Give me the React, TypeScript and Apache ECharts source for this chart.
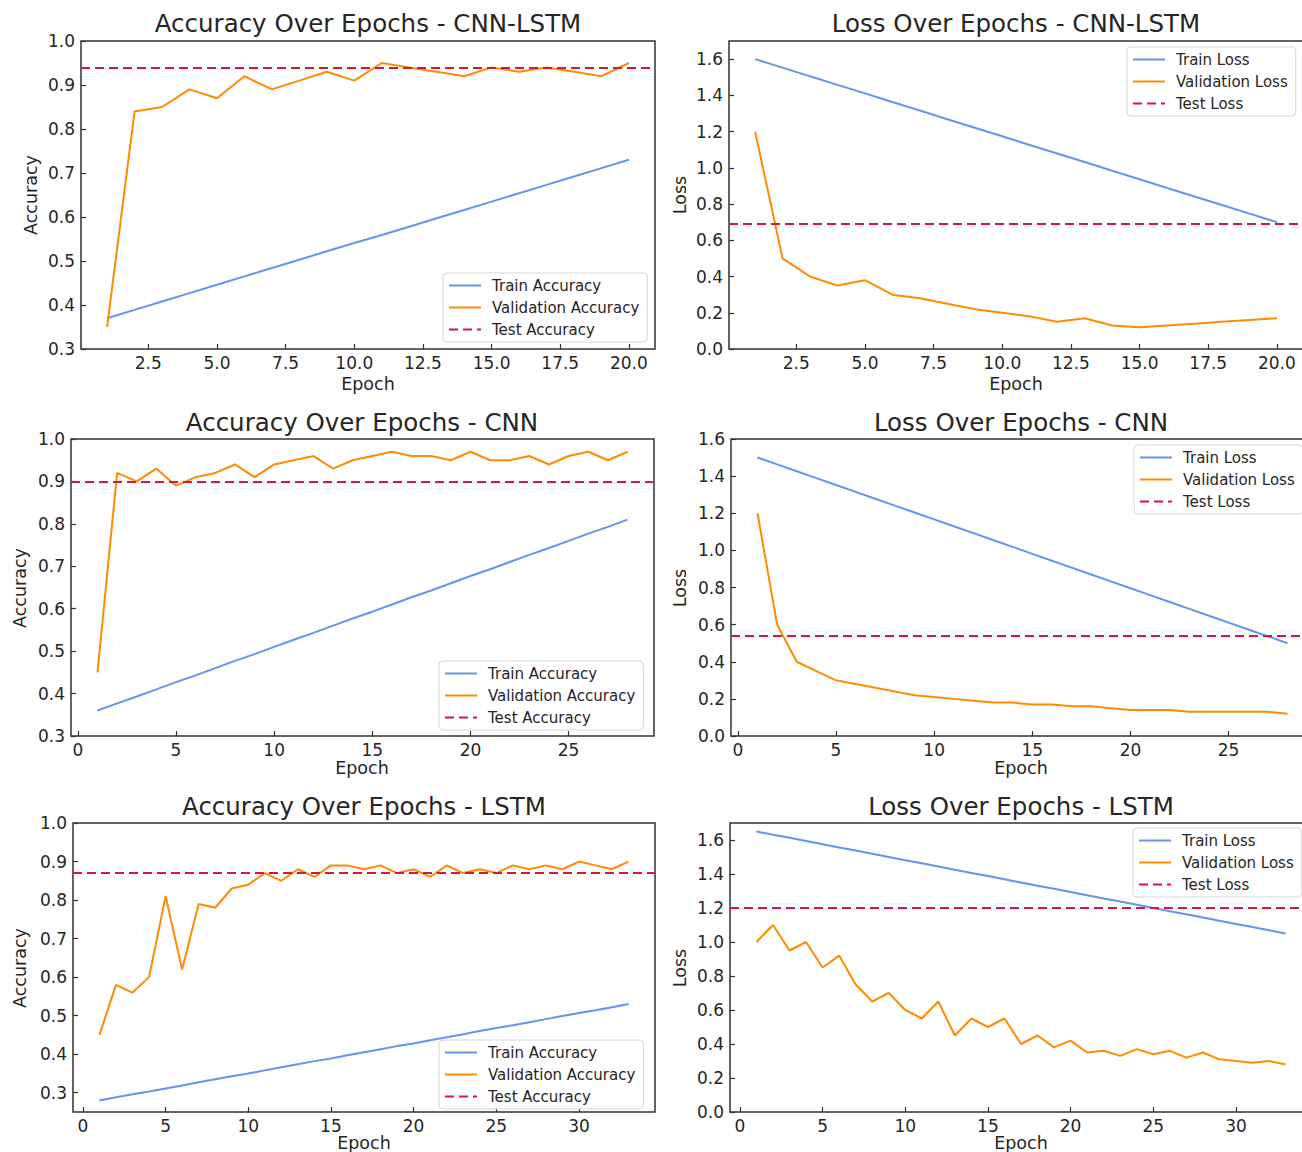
import React, { useEffect, useRef } from 'react';
import * as echarts from 'echarts';

// ---------- DATA ----------
const epochs20 = [1, 2, 3, 4, 5, 6, 7, 8, 9, 10, 11, 12, 13, 14, 15, 16, 17, 18, 19, 20];
const epochs28 = [1, 2, 3, 4, 5, 6, 7, 8, 9, 10, 11, 12, 13, 14, 15, 16, 17, 18, 19, 20, 21, 22, 23, 24, 25, 26, 27, 28];
const epochs33 = [1, 2, 3, 4, 5, 6, 7, 8, 9, 10, 11, 12, 13, 14, 15, 16, 17, 18, 19, 20, 21, 22, 23, 24, 25, 26, 27, 28, 29, 30, 31, 32, 33];

const cnnLstmTrainAcc = [0.370, 0.389, 0.408, 0.427, 0.446, 0.465, 0.484, 0.503, 0.522, 0.541, 0.559, 0.578, 0.597, 0.616, 0.635, 0.654, 0.673, 0.692, 0.711, 0.730];
const cnnLstmValAcc = [0.35, 0.84, 0.85, 0.89, 0.87, 0.92, 0.89, 0.91, 0.93, 0.91, 0.95, 0.94, 0.93, 0.92, 0.94, 0.93, 0.94, 0.93, 0.92, 0.95];
const cnnLstmTestAcc = 0.936;
const cnnLstmTrainLoss = [1.600, 1.553, 1.505, 1.458, 1.411, 1.363, 1.316, 1.268, 1.221, 1.174, 1.126, 1.079, 1.032, 0.984, 0.937, 0.889, 0.842, 0.795, 0.747, 0.700];
const cnnLstmValLoss = [1.2, 0.5, 0.4, 0.35, 0.38, 0.3, 0.28, 0.25, 0.22, 0.2, 0.18, 0.15, 0.17, 0.13, 0.12, 0.13, 0.14, 0.15, 0.16, 0.17];
const cnnLstmTestLoss = 0.69;

const cnnTrainAcc = [0.360, 0.377, 0.393, 0.410, 0.427, 0.443, 0.460, 0.477, 0.493, 0.510, 0.527, 0.543, 0.560, 0.577, 0.593, 0.610, 0.627, 0.643, 0.660, 0.677, 0.693, 0.710, 0.727, 0.743, 0.760, 0.777, 0.793, 0.810];
const cnnValAcc = [0.45, 0.92, 0.90, 0.93, 0.89, 0.91, 0.92, 0.94, 0.91, 0.94, 0.95, 0.96, 0.93, 0.95, 0.96, 0.97, 0.96, 0.96, 0.95, 0.97, 0.95, 0.95, 0.96, 0.94, 0.96, 0.97, 0.95, 0.97];
const cnnTestAcc = 0.90;
const cnnTrainLoss = [1.500, 1.463, 1.426, 1.389, 1.352, 1.315, 1.278, 1.241, 1.204, 1.167, 1.130, 1.093, 1.056, 1.019, 0.981, 0.944, 0.907, 0.870, 0.833, 0.796, 0.759, 0.722, 0.685, 0.648, 0.611, 0.574, 0.537, 0.500];
const cnnValLoss = [1.2, 0.6, 0.4, 0.35, 0.3, 0.28, 0.26, 0.24, 0.22, 0.21, 0.2, 0.19, 0.18, 0.18, 0.17, 0.17, 0.16, 0.16, 0.15, 0.14, 0.14, 0.14, 0.13, 0.13, 0.13, 0.13, 0.13, 0.12];
const cnnTestLoss = 0.535;

const lstmTrainAcc = [0.280, 0.288, 0.296, 0.303, 0.311, 0.319, 0.327, 0.335, 0.343, 0.350, 0.358, 0.366, 0.374, 0.382, 0.389, 0.397, 0.405, 0.413, 0.421, 0.428, 0.436, 0.444, 0.452, 0.460, 0.468, 0.475, 0.483, 0.491, 0.499, 0.507, 0.514, 0.522, 0.530];
const lstmValAcc = [0.45, 0.58, 0.56, 0.60, 0.81, 0.62, 0.79, 0.78, 0.83, 0.84, 0.87, 0.85, 0.88, 0.86, 0.89, 0.89, 0.88, 0.89, 0.87, 0.88, 0.86, 0.89, 0.87, 0.88, 0.87, 0.89, 0.88, 0.89, 0.88, 0.90, 0.89, 0.88, 0.90];
const lstmTestAcc = 0.874;
const lstmTrainLoss = [1.650, 1.631, 1.613, 1.594, 1.575, 1.556, 1.538, 1.519, 1.500, 1.481, 1.463, 1.444, 1.425, 1.406, 1.388, 1.369, 1.350, 1.331, 1.313, 1.294, 1.275, 1.256, 1.238, 1.219, 1.200, 1.181, 1.163, 1.144, 1.125, 1.106, 1.088, 1.069, 1.050];
const lstmValLoss = [1.0, 1.1, 0.95, 1.0, 0.85, 0.92, 0.75, 0.65, 0.70, 0.60, 0.55, 0.65, 0.45, 0.55, 0.50, 0.55, 0.40, 0.45, 0.38, 0.42, 0.35, 0.36, 0.33, 0.37, 0.34, 0.36, 0.32, 0.35, 0.31, 0.30, 0.29, 0.30, 0.28];
const lstmTestLoss = 1.20;

const xTicksHalf = [2.5, 5, 7.5, 10, 12.5, 15, 17.5, 20];
const xTicksFive = [0, 5, 10, 15, 20, 25];
const xTicksFive30 = [0, 5, 10, 15, 20, 25, 30];
const yTicksAcc = [0.3, 0.4, 0.5, 0.6, 0.7, 0.8, 0.9, 1.0];
const yTicksLoss = [0.0, 0.2, 0.4, 0.6, 0.8, 1.0, 1.2, 1.4, 1.6];

// ---------- STYLE ----------
const FONT = 'DejaVu Sans';
const TEXT = '#262626';
const AXIS = '#333333';
const BLUE = '#6495ED';
const ORANGE = '#FF8C00';
const RED = '#DC143C';

type Panel = {
  title: string; ylabel: string; kind: 'Accuracy' | 'Loss';
  epochs: number[]; train: number[]; val: number[]; test: number;
  grid: { left: number; top: number; width: number; height: number };
  xMin: number; xMax: number; yMin: number; yMax: number;
  xTicks: number[]; xFmt: (v: number) => string; yTicks: number[];
  titlePos: [number, number]; ylabelPos: [number, number]; xlabelPos: [number, number];
  legendPos: [number, number];
};

const fmt1 = (v: number) => v.toFixed(1);
const fmt0 = (v: number) => String(Math.round(v));

const panels: Panel[] = [
  {
    title: 'Accuracy Over Epochs - CNN-LSTM', ylabel: 'Accuracy', kind: 'Accuracy',
    epochs: epochs20, train: cnnLstmTrainAcc, val: cnnLstmValAcc, test: cnnLstmTestAcc,
    grid: { left: 81, top: 41, width: 574, height: 308 },
    xMin: 0.05, xMax: 20.95, yMin: 0.3, yMax: 1.0, xTicks: xTicksHalf, xFmt: fmt1, yTicks: yTicksAcc,
    titlePos: [368, 23], ylabelPos: [31, 195], xlabelPos: [368, 384], legendPos: [443, 273],
  },
  {
    title: 'Loss Over Epochs - CNN-LSTM', ylabel: 'Loss', kind: 'Loss',
    epochs: epochs20, train: cnnLstmTrainLoss, val: cnnLstmValLoss, test: cnnLstmTestLoss,
    grid: { left: 729, top: 41, width: 574, height: 308 },
    xMin: 0.05, xMax: 20.95, yMin: 0, yMax: 1.7, xTicks: xTicksHalf, xFmt: fmt1, yTicks: yTicksLoss,
    titlePos: [1016, 23], ylabelPos: [680, 195], xlabelPos: [1016, 384], legendPos: [1127, 47],
  },
  {
    title: 'Accuracy Over Epochs - CNN', ylabel: 'Accuracy', kind: 'Accuracy',
    epochs: epochs28, train: cnnTrainAcc, val: cnnValAcc, test: cnnTestAcc,
    grid: { left: 71, top: 439, width: 583, height: 297 },
    xMin: -0.35, xMax: 29.35, yMin: 0.3, yMax: 1.0, xTicks: xTicksFive, xFmt: fmt0, yTicks: yTicksAcc,
    titlePos: [362, 422], ylabelPos: [20, 588], xlabelPos: [362, 768], legendPos: [439, 661],
  },
  {
    title: 'Loss Over Epochs - CNN', ylabel: 'Loss', kind: 'Loss',
    epochs: epochs28, train: cnnTrainLoss, val: cnnValLoss, test: cnnTestLoss,
    grid: { left: 731, top: 439, width: 583, height: 297 },
    xMin: -0.35, xMax: 29.35, yMin: 0, yMax: 1.6, xTicks: xTicksFive, xFmt: fmt0, yTicks: yTicksLoss,
    titlePos: [1021, 422], ylabelPos: [680, 588], xlabelPos: [1021, 768], legendPos: [1134, 445],
  },
  {
    title: 'Accuracy Over Epochs - LSTM', ylabel: 'Accuracy', kind: 'Accuracy',
    epochs: epochs33, train: lstmTrainAcc, val: lstmValAcc, test: lstmTestAcc,
    grid: { left: 73, top: 823, width: 582, height: 289 },
    xMin: -0.6, xMax: 34.6, yMin: 0.25, yMax: 1.0, xTicks: xTicksFive30, xFmt: fmt0, yTicks: yTicksAcc,
    titlePos: [364, 806], ylabelPos: [20, 968], xlabelPos: [364, 1143], legendPos: [439, 1040],
  },
  {
    title: 'Loss Over Epochs - LSTM', ylabel: 'Loss', kind: 'Loss',
    epochs: epochs33, train: lstmTrainLoss, val: lstmValLoss, test: lstmTestLoss,
    grid: { left: 730, top: 823, width: 582, height: 289 },
    xMin: -0.6, xMax: 34.6, yMin: 0, yMax: 1.7, xTicks: xTicksFive30, xFmt: fmt0, yTicks: yTicksLoss,
    titlePos: [1021, 806], ylabelPos: [680, 968], xlabelPos: [1021, 1143], legendPos: [1133, 828],
  },
];

function buildOption() {
  const grid: any[] = [];
  const xAxis: any[] = [];
  const yAxis: any[] = [];
  const series: any[] = [];
  const legend: any[] = [];
  const graphic: any[] = [];

  panels.forEach((p, i) => {
    grid.push({
      ...p.grid,
      show: true,
      borderColor: AXIS,
      borderWidth: 1.5,
      backgroundColor: '#ffffff',
      containLabel: false,
      outerBoundsMode: 'none',
    });
    const tickStyle = { show: true, inside: true, length: 5, lineStyle: { color: AXIS, width: 1.2 } };
    const labelStyle = { color: TEXT, fontFamily: FONT, fontSize: 17, margin: 5 };
    xAxis.push({
      type: 'value', gridIndex: i, min: p.xMin, max: p.xMax,
      axisLine: { show: false, onZero: false },
      splitLine: { show: false },
      axisTick: { ...tickStyle, customValues: p.xTicks },
      axisLabel: { ...labelStyle, customValues: p.xTicks, formatter: (v: number) => p.xFmt(v) },
    });
    yAxis.push({
      type: 'value', gridIndex: i, min: p.yMin, max: p.yMax,
      axisLine: { show: false, onZero: false },
      splitLine: { show: false },
      axisTick: { ...tickStyle, customValues: p.yTicks },
      axisLabel: { ...labelStyle, margin: 6, customValues: p.yTicks, formatter: (v: number) => v.toFixed(1) },
    });
    const trainName = `Train ${p.kind}`;
    const valName = `Validation ${p.kind}`;
    const testName = `Test ${p.kind}`;
    series.push({
      name: trainName, type: 'line', xAxisIndex: i, yAxisIndex: i,
      data: p.epochs.map((e, k) => [e, p.train[k]]),
      symbol: 'none', showSymbol: false, color: BLUE,
      lineStyle: { color: BLUE, width: 2 }, z: 2,
    });
    series.push({
      name: valName, type: 'line', xAxisIndex: i, yAxisIndex: i,
      data: p.epochs.map((e, k) => [e, p.val[k]]),
      symbol: 'none', showSymbol: false, color: ORANGE,
      lineStyle: { color: ORANGE, width: 2 }, z: 3,
    });
    series.push({
      name: testName, type: 'line', xAxisIndex: i, yAxisIndex: i,
      data: [],
      symbol: 'none', showSymbol: false, color: RED,
      lineStyle: { color: RED, width: 2, type: [9, 5] }, z: 4,
      markLine: {
        silent: true, symbol: 'none', label: { show: false },
        lineStyle: { color: RED, width: 2, type: [9, 5] },
        data: [{ yAxis: p.test }],
      },
    });
    legend.push({
      show: true,
      data: [trainName, valName, testName],
      orient: 'vertical',
      left: p.legendPos[0], top: p.legendPos[1],
      itemWidth: 32, itemHeight: 14, itemGap: 7,
      padding: [5, 8, 5, 5],
      backgroundColor: 'rgba(255,255,255,0.85)',
      borderColor: '#d6d6d6', borderWidth: 1, borderRadius: 4,
      selectedMode: false,
      itemStyle: { opacity: 0, borderWidth: 0 },
      lineStyle: { width: 2 },
      textStyle: { color: TEXT, fontFamily: FONT, fontSize: 15, padding: [0, 0, 0, 6] },
    });
    graphic.push({
      type: 'text', x: p.titlePos[0], y: p.titlePos[1], z: 10,
      style: { text: p.title, fontFamily: FONT, fontSize: 24.5, fill: TEXT, align: 'center', verticalAlign: 'middle' },
    });
    graphic.push({
      type: 'text', x: p.xlabelPos[0], y: p.xlabelPos[1], z: 10,
      style: { text: 'Epoch', fontFamily: FONT, fontSize: 17.5, fill: TEXT, align: 'center', verticalAlign: 'middle' },
    });
    graphic.push({
      type: 'text', x: p.ylabelPos[0], y: p.ylabelPos[1], rotation: Math.PI / 2, z: 10,
      style: { text: p.ylabel, fontFamily: FONT, fontSize: 17.5, fill: TEXT, align: 'center', verticalAlign: 'middle' },
    });
  });

  return {
    animation: false,
    backgroundColor: '#ffffff',
    textStyle: { fontFamily: FONT },
    grid, xAxis, yAxis, series, legend, graphic,
  };
}

export default function App() {
  const ref = useRef<HTMLDivElement>(null);
  useEffect(() => {
    if (!ref.current) return;
    const chart = echarts.init(ref.current, undefined, { renderer: 'svg' });
    chart.setOption(buildOption() as any);
    return () => chart.dispose();
  }, []);
  return (
    <div
      ref={ref}
      style={{ position: 'absolute', left: 0, top: 0, width: 1302, height: 1152, background: '#fff' }}
    />
  );
}
